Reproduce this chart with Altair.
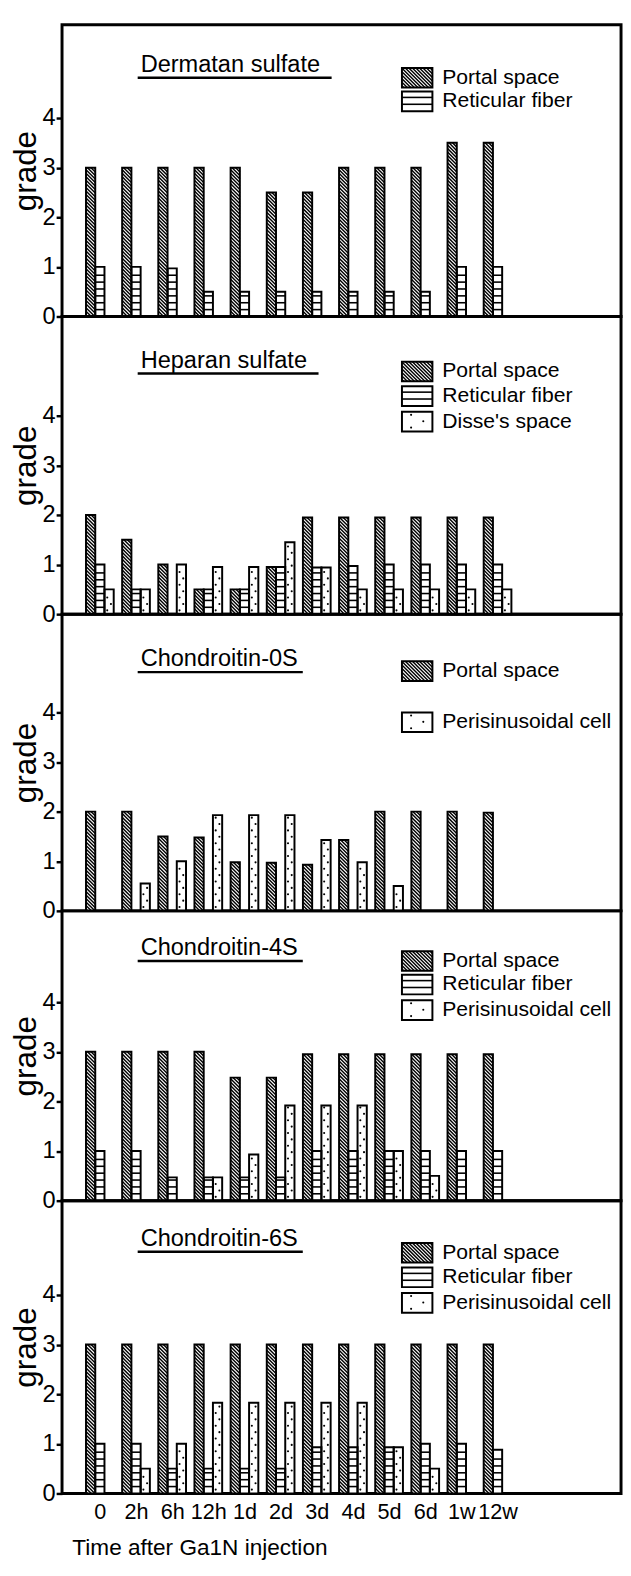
import json
import altair as alt
import pandas as pd

# ---------------- data ----------------
times = ["0", "2h", "6h", "12h", "1d", "2d", "3d", "4d", "5d", "6d", "1w", "12w"]

derm_portal = [3, 3, 3, 3, 3, 2.5, 2.5, 3, 3, 3, 3.5, 3.5]
derm_retic = [1, 1, 0.97, 0.5, 0.5, 0.5, 0.5, 0.5, 0.5, 0.5, 1, 1]

hep_portal = [2, 1.5, 1, 0.5, 0.5, 0.95, 1.95, 1.95, 1.95, 1.95, 1.95, 1.95]
hep_retic = [1, 0.5, None, 0.5, 0.5, 0.95, 0.94, 0.97, 1, 1, 1, 1]
hep_disse = [0.5, 0.5, 1, 0.95, 0.95, 1.45, 0.94, 0.5, 0.5, 0.5, 0.5, 0.5]

c0_portal = [2, 2, 1.5, 1.48, 0.98, 0.97, 0.93, 1.43, 2, 2, 2, 1.98]
c0_peri = [None, 0.55, 1, 1.93, 1.93, 1.93, 1.43, 0.98, 0.5, None, None, None]

c4_portal = [3, 3, 3, 3, 2.48, 2.48, 2.95, 2.95, 2.95, 2.95, 2.95, 2.95]
c4_retic = [1, 1, 0.47, 0.47, 0.47, 0.47, 1, 1, 1, 1, 1, 1]
c4_peri = [None, None, None, 0.47, 0.93, 1.92, 1.92, 1.92, 1, 0.5, None, None]

c6_portal = [3, 3, 3, 3, 3, 3, 3, 3, 3, 3, 3, 3]
c6_retic = [1, 1, 0.5, 0.5, 0.5, 0.5, 0.93, 0.93, 0.93, 1, 1, 0.88]
c6_peri = [None, 0.5, 1, 1.83, 1.83, 1.83, 1.83, 1.83, 0.93, 0.5, None, None]

panel_titles = ["Dermatan  sulfate", "Heparan  sulfate", "Chondroitin-0S",
                "Chondroitin-4S", "Chondroitin-6S"]
panel_series = [
    [derm_portal, derm_retic, None],
    [hep_portal, hep_retic, hep_disse],
    [c0_portal, None, c0_peri],
    [c4_portal, c4_retic, c4_peri],
    [c6_portal, c6_retic, c6_peri],
]
panel_legends = [
    [(0, "Portal  space"), (1, "Reticular  fiber")],
    [(0, "Portal  space"), (1, "Reticular  fiber"), (2, "Disse's  space")],
    [(0, "Portal  space"), (2, "Perisinusoidal  cell")],
    [(0, "Portal  space"), (1, "Reticular  fiber"), (2, "Perisinusoidal  cell")],
    [(0, "Portal  space"), (1, "Reticular  fiber"), (2, "Perisinusoidal  cell")],
]

# ---------------- layout / style ----------------
FONT = "Liberation Sans"
PX_X = 36.8          # pixels per time group
PX_Y = 50.5          # pixels per grade unit
BAR_PX = 9.4
PLOT_W = 569
FIRST_C = 38.5       # px from axis to first group centre
X_LO = -FIRST_C / PX_X
X_HI = X_LO + PLOT_W / PX_X
HEIGHTS = [297, 303, 302, 295, 298]

LEG_ROWS = [[54, 78], [56, 81, 107], [58, 110], [51, 75, 101], [53, 78, 104]]
TITLE_Y = [48, 52, 53, 45, 46]
TITLE_X = 80
TITLE_FS = 24
LEG_X0, LEG_X1, LEG_TX = 346, 377, 387
LEG_FS = 21.5

HATCH_P = 3.6
RET_P = 7.0
DOT_P = 6.5

CW = {' ': .278, '-': .333, "'": .191, 'a': .556, 'b': .556, 'c': .5, 'd': .556, 'e': .556,
      'f': .278, 'h': .556, 'i': .222, 'l': .222, 'm': .833, 'n': .556, 'o': .556,
      'p': .556, 'r': .333, 's': .5, 't': .278, 'u': .556, 'C': .722, 'D': .722,
      'H': .722, 'S': .667, '0': .556, '4': .556, '6': .556}


def text_w(s, fs):
    return sum(CW.get(ch, .556) for ch in s) * fs


def diag(xl, xr, yb, yt):
    w = (xr - xl) * PX_X
    h = (yt - yb) * PX_Y
    segs = []
    c = HATCH_P / 2
    while c < w + h:
        X0 = max(0.0, c - h)
        X1 = min(w, c)
        segs.append((xl + X0 / PX_X, yb + (c - X0) / PX_Y,
                     xl + X1 / PX_X, yb + (c - X1) / PX_Y, 1.45))
        c += HATCH_P
    return segs


def horiz(xl, xr, yb, yt):
    h = (yt - yb) * PX_Y
    segs = []
    k = 1
    while k * RET_P < h - 2.5:
        y = yb + k * RET_P / PX_Y
        segs.append((xl, y, xr, y, 1.6))
        k += 1
    return segs


def dots(xl, xr, yb, yt):
    h = (yt - yb) * PX_Y
    pts = []
    k = 0
    while (k + 0.6) * DOT_P < h - 2:
        y = yb + (k + 0.6) * DOT_P / PX_Y
        x = xl + (xr - xl) * (0.3 if k % 2 == 0 else 0.7)
        pts.append((x, y))
        k += 1
    return pts


def build_panel(idx, bottom):
    H = HEIGHTS[idx]
    ytop = H / PX_Y
    rects, lines, pts, texts = [], [], [], []

    def add_box(j, xl, xr, yb, yt):
        rects.append((xl, xr, yb, yt))
        if j == 0:
            lines.extend(diag(xl, xr, yb, yt))
        elif j == 1:
            lines.extend(horiz(xl, xr, yb, yt))
        else:
            pts.extend(dots(xl, xr, yb, yt))

    for j, vals in enumerate(panel_series[idx]):
        if vals is None:
            continue
        for i, v in enumerate(vals):
            if v is None:
                continue
            xl = i + (j - 1.5) * BAR_PX / PX_X
            add_box(j, xl, xl + BAR_PX / PX_X, 0.0, v)

    for (j, lab), cy in zip(panel_legends[idx], LEG_ROWS[idx]):
        xl = X_LO + LEG_X0 / PX_X
        xr = X_LO + LEG_X1 / PX_X
        yb = (H - cy - 10) / PX_Y
        yt = (H - cy + 10) / PX_Y
        add_box(j, xl, xr, yb, yt)
        texts.append((X_LO + LEG_TX / PX_X, (H - cy) / PX_Y, lab))

    xs = alt.Scale(domain=[X_LO, X_HI], nice=False, zero=False)
    ys = alt.Scale(domain=[0, ytop], nice=False, zero=False)
    if bottom:
        xax = alt.Axis(values=list(range(len(times))),
                       labelExpr=json.dumps(times) + "[datum.value]",
                       title="Time  after  Ga1N  injection", grid=False, ticks=False,
                       domain=False, labelFontSize=22, labelPadding=9,
                       labelOverlap=False, labelFlush=False, titleFontSize=23,
                       titleFontWeight="normal", titleAnchor="start", titleAlign="left",
                       titleX=10, titleY=62, titleBaseline="alphabetic")
    else:
        xax = None
    yax = alt.Axis(values=[0, 1, 2, 3, 4], title="grade", grid=False, domain=False,
                   tickSize=6, tickWidth=2.5, tickColor="black", labelFontSize=24,
                   labelPadding=1, titleFontSize=32, titleFontWeight="normal",
                   titlePadding=0)

    rdf = pd.DataFrame(rects, columns=["x1", "x2", "y1", "y2"])
    ldf = pd.DataFrame(lines, columns=["x1", "y1", "x2", "y2", "sw"])
    tdf = pd.DataFrame(texts, columns=["x", "y", "t"])

    def xy():
        return dict(x=alt.X("x1:Q", scale=xs, axis=xax), x2="x2:Q",
                    y=alt.Y("y1:Q", scale=ys, axis=yax), y2="y2:Q")

    layers = [
        alt.Chart(rdf).mark_rect(fill="white").encode(**xy()),
        alt.Chart(ldf).mark_rule(color="black").encode(
            strokeWidth=alt.StrokeWidth("sw:Q", scale=None), **xy()),
    ]
    if pts:
        pdf = pd.DataFrame(pts, columns=["x", "y"])
        layers.append(alt.Chart(pdf).mark_circle(size=4.5, color="black", opacity=1).encode(
            x=alt.X("x:Q", scale=xs, axis=xax), y=alt.Y("y:Q", scale=ys, axis=yax)))
    layers.append(alt.Chart(rdf).mark_rect(fillOpacity=0, stroke="black", strokeWidth=2)
                  .encode(**xy()))
    layers.append(alt.Chart(tdf).mark_text(align="left", baseline="middle", fontSize=LEG_FS,
                                           font=FONT, color="black").encode(
        x=alt.X("x:Q", scale=xs, axis=xax), y=alt.Y("y:Q", scale=ys, axis=yax), text="t:N"))
    title = panel_titles[idx]
    layers.append(alt.Chart(pd.DataFrame({"t": [title]})).mark_text(
        align="left", baseline="alphabetic", fontSize=TITLE_FS, font=FONT,
        color="black").encode(
        x=alt.value(TITLE_X), y=alt.value(TITLE_Y[idx]), text="t:N"))
    layers.append(alt.Chart(pd.DataFrame({"a": [0]})).mark_rule(
        color="black", strokeWidth=2.5).encode(
        x=alt.value(TITLE_X - 3), x2=alt.value(TITLE_X + text_w(title, TITLE_FS) + 5),
        y=alt.value(TITLE_Y[idx] + 6)))
    return alt.layer(*layers).properties(width=PLOT_W, height=H)


panels = [build_panel(k, k == len(panel_titles) - 1) for k in range(len(panel_titles))]

chart = alt.vconcat(*panels, spacing=0, bounds="flush").properties(
    padding={"left": 0, "top": 1, "right": 0, "bottom": 0}
).configure_view(stroke="black", strokeWidth=3).configure_axis(
    labelFont=FONT, titleFont=FONT, labelColor="black", titleColor="black"
)

chart.save("out.html", embed_options={"renderer": "svg", "actions": False})
